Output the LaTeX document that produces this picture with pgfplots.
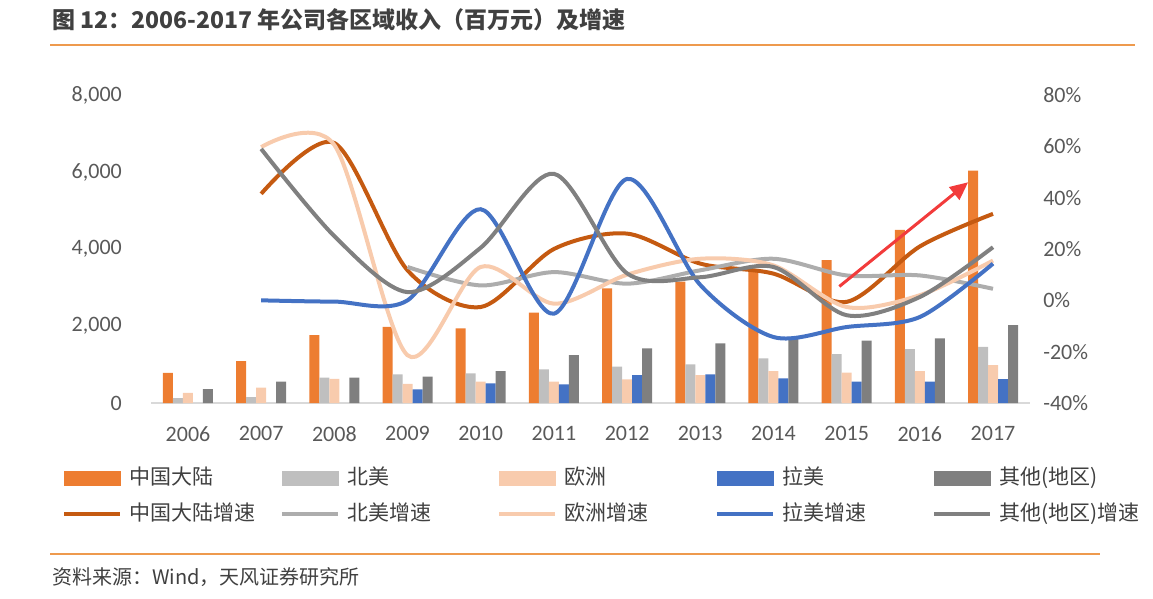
\documentclass[border=0pt]{standalone}
\usepackage{pgfplots}
\pgfplotsset{compat=1.18}
\usepackage{pgfplotstable}
\usepackage{fontspec}
\setmainfont{Carlito}
\newfontfamily\cjk{Noto Sans CJK SC}
\usetikzlibrary{arrows.meta}

\definecolor{cnBar}{HTML}{ED7D31}
\definecolor{naBar}{HTML}{BFBFBF}
\definecolor{euBar}{HTML}{F8CBAD}
\definecolor{laBar}{HTML}{4472C4}
\definecolor{otBar}{HTML}{7F7F7F}
\definecolor{cnLine}{HTML}{C55A11}
\definecolor{naLine}{HTML}{ADADAD}
\definecolor{euLine}{HTML}{F8CBAD}
\definecolor{laLine}{HTML}{4472C4}
\definecolor{otLine}{HTML}{808080}
\definecolor{ruleOrange}{HTML}{EE9A4D}
\definecolor{tickGray}{HTML}{595959}
\definecolor{textGray}{HTML}{404040}
\definecolor{axisGray}{HTML}{D9D9D9}
\definecolor{arrowRed}{HTML}{F23B3B}

% revenue by region (million yuan)
\pgfplotstableread{
x  cn   na   eu   la   ot
0  780  130  260  nan  360
1  1090 150  400  nan  555
2  1766 660  625  nan  660
3  1980 745  494  355  684
4  1940 770  555  510  830
5  2350 875  555  485  1245
6  2978 944  615  727  1420
7  3150 1005 727  745  1550
8  3410 1160 830  640  1720
9  3714 1270 790  555  1620
10 4494 1400 830  555  1680
11 6034 1460 987  623  2025
}\revenue

% year-on-year growth (%)
\pgfplotstableread{
x  cn    na    eu    la    ot
1  41.5  nan   59.7  0     59
2  61.3  nan   60.5  -0.5  25
3  11.7  13    -21.4 0     3.2
4  -2.6  5.8   13    35.5  20.5
5  20    11    -1.3  -5.2  49.3
6  26    6.5   10    47.3  10.5
7  14.3  11.7  16.2  6     9
8  10.4  16.2  13.6  -14.3 13
9  -0.6  9.7   -2.6  -10.4 -5.8
10 21    9.7   2     -6.5  1.3
11 33.7  4.5   15.5  14.3  20.7
}\growth

\newcommand\legtext[1]{\makebox[148pt][l]{#1}}

\pgfplotsset{
  common/.style={
    scale only axis, width=878.2pt, height=308pt,
    at={(151.4pt,-403pt)}, anchor=south west,
    xmin=-0.5, xmax=11.5,
    major tick length=0pt,
    tick label style={font=\fontsize{22}{26}\selectfont, text=tickGray, inner sep=0pt},
  },
  bar/.style={ybar, bar width=10pt, draw=none, fill=#1, forget plot},
  growthline/.style={draw=#1, line width=4pt, smooth, no markers},
}

\begin{document}
\begin{tikzpicture}
\path[use as bounding box] (0pt,0pt) rectangle (1153pt,-599pt);

% title and rules
\node[anchor=west, inner sep=0pt, text=textGray, font=\cjk\bfseries\fontsize{23}{27}\selectfont]
  at (52pt,-20pt) {图 12：2006-2017 年公司各区域收入（百万元）及增速};
\draw[ruleOrange, line width=2pt] (50pt,-45pt) -- (1135pt,-45pt);
\draw[ruleOrange, line width=2pt] (50pt,-554pt) -- (1100pt,-554pt);
\node[anchor=west, inner sep=0pt, text=textGray, font=\cjk\fontsize{20}{24}\selectfont]
  at (52pt,-577pt) {资料来源：Wind，天风证券研究所};

% revenue bars (left axis)
\begin{axis}[common,
  ymin=0, ymax=8000,
  axis x line*=bottom, axis y line*=left,
  x axis line style={draw=axisGray, line width=1.5pt},
  y axis line style={draw=none},
  xtick={0,...,11},
  xticklabels={2006,2007,2008,2009,2010,2011,2012,2013,2014,2015,2016,2017},
  xticklabel style={anchor=north, yshift=-23pt},
  ytick={0,2000,4000,6000,8000},
  yticklabels={0,{2,000},{4,000},{6,000},{8,000}},
  yticklabel style={anchor=east, xshift=-29.4pt},
  legend columns=5,
  legend style={at={(-0.1018,-0.2078)}, anchor=north west, draw=none, fill=none,
    inner sep=0pt, row sep=14pt,
    font=\cjk\fontsize{21}{24}\selectfont, text=textGray,
    nodes={inner sep=1pt, text height=16pt, text depth=4pt},
    /tikz/every odd column/.append style={column sep=6pt},
    /tikz/every even column/.append style={column sep=1pt}},
  legend cell align=left,
]
\addplot[bar=cnBar, bar shift=-20pt] table[x=x, y=cn] {\revenue};
\addplot[bar=naBar, bar shift=-10pt] table[x=x, y=na] {\revenue};
\addplot[bar=euBar, bar shift=0pt]   table[x=x, y=eu] {\revenue};
\addplot[bar=laBar, bar shift=10pt]  table[x=x, y=la] {\revenue};
\addplot[bar=otBar, bar shift=20pt]  table[x=x, y=ot] {\revenue};

\addlegendimage{legend image code/.code={\fill[cnBar] (0pt,-7pt) rectangle (56pt,7pt);}}
\addlegendentry{\legtext{中国大陆}}
\addlegendimage{legend image code/.code={\fill[naBar] (0pt,-7pt) rectangle (56pt,7pt);}}
\addlegendentry{\legtext{北美}}
\addlegendimage{legend image code/.code={\fill[euBar] (0pt,-7pt) rectangle (56pt,7pt);}}
\addlegendentry{\legtext{欧洲}}
\addlegendimage{legend image code/.code={\fill[laBar] (0pt,-7pt) rectangle (56pt,7pt);}}
\addlegendentry{\legtext{拉美}}
\addlegendimage{legend image code/.code={\fill[otBar] (0pt,-7pt) rectangle (56pt,7pt);}}
\addlegendentry{\legtext{其他(地区)}}
\addlegendimage{legend image code/.code={\draw[cnLine, line width=4.5pt] (0pt,0pt) -- (56pt,0pt);}}
\addlegendentry{\legtext{中国大陆增速}}
\addlegendimage{legend image code/.code={\draw[naLine, line width=4.5pt] (0pt,0pt) -- (56pt,0pt);}}
\addlegendentry{\legtext{北美增速}}
\addlegendimage{legend image code/.code={\draw[euLine, line width=4.5pt] (0pt,0pt) -- (56pt,0pt);}}
\addlegendentry{\legtext{欧洲增速}}
\addlegendimage{legend image code/.code={\draw[laLine, line width=4.5pt] (0pt,0pt) -- (56pt,0pt);}}
\addlegendentry{\legtext{拉美增速}}
\addlegendimage{legend image code/.code={\draw[otLine, line width=4.5pt] (0pt,0pt) -- (56pt,0pt);}}
\addlegendentry{\legtext{其他(地区)增速}}
\end{axis}

% growth curves (right axis)
\begin{axis}[common,
  ymin=-40, ymax=80,
  axis x line=none, axis y line*=right,
  y axis line style={draw=none},
  ytick={-40,-20,0,20,40,60,80},
  yticklabels={-40\%,-20\%,0\%,20\%,40\%,60\%,80\%},
  yticklabel style={anchor=west, xshift=13.5pt},
]
\addplot[growthline=cnLine] table[x=x, y=cn] {\growth};
\addplot[growthline=naLine] table[x=x, y=na] {\growth};
\addplot[growthline=euLine] table[x=x, y=eu] {\growth};
\addplot[growthline=laLine] table[x=x, y=la] {\growth};
\addplot[growthline=otLine] table[x=x, y=ot] {\growth};
\draw[arrowRed, line width=3pt, -{Triangle[width=16pt,length=18pt]}]
  (axis cs:8.9,5.4) -- (axis cs:10.66,46);
\end{axis}
\end{tikzpicture}
\end{document}
